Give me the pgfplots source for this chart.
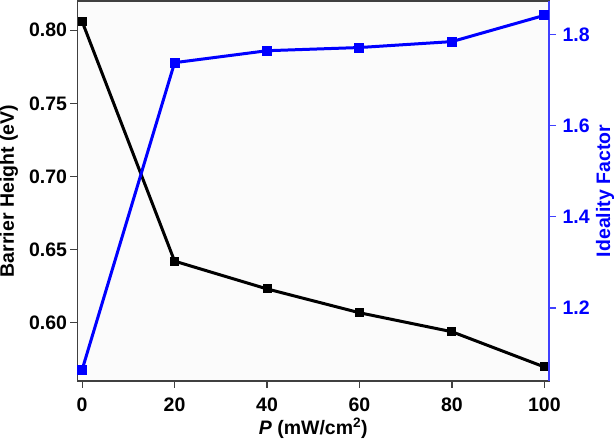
\documentclass[border=0pt]{standalone}
\usepackage{fontspec}
\setmainfont{Liberation Sans}
\usepackage{pgfplots}
\pgfplotsset{compat=1.18}
\definecolor{axgray}{HTML}{404040}
\definecolor{myblue}{RGB}{0,0,255}
\newcommand{\lblfont}{\bfseries\fontsize{19.5}{23}\selectfont}
\begin{document}
\begin{tikzpicture}
\useasboundingbox (-77.5pt,-60pt) rectangle (538.5pt,381pt);
\pgfplotsset{
  every axis/.append style={
    scale only axis, width=471.5pt, height=380pt,
    xmin=-1, xmax=101,
    /pgf/number format/assume math mode=true,
    tick label style={font=\lblfont},
    major tick length=7pt,
    tick align=outside,
    minor tick num=0,
  }
}
\begin{axis}[
  axis background/.style={fill=black!1.5},
  ymin=0.56, ymax=0.82,
  ytick={0.60,0.65,0.70,0.75,0.80},
  yticklabel style={/pgf/number format/fixed, /pgf/number format/fixed zerofill, /pgf/number format/precision=2},
  xticklabel style={yshift=-6pt},
  xtick={0,20,40,60,80,100},
  xtick pos=bottom, ytick pos=left,
  axis line style={axgray, line width=1.5pt},
  every tick/.style={axgray, line width=1.2pt},
  xlabel={\textit{P} (mW/cm\textsuperscript{2})},
  ylabel={Barrier Height (eV)},
  every axis y label/.style={at={(axis description cs:-0.1453,0.5)}, rotate=90, anchor=center, font=\lblfont},
  every axis x label/.style={at={(axis description cs:0.5,-0.124)}, anchor=center, font=\lblfont},
]
\addplot[black, line width=3pt, mark=square*, mark size=3pt, mark options={solid}] coordinates {
 (0,0.806) (20,0.642) (40,0.623) (60,0.6067) (80,0.5937) (100,0.5696)
};
\end{axis}
\begin{axis}[
  ymin=1.04, ymax=1.873,
  axis y line*=right, axis x line=none,
  ytick={1.2,1.4,1.6,1.8},
  yticklabel style={myblue, xshift=3pt, /pgf/number format/fixed, /pgf/number format/fixed zerofill, /pgf/number format/precision=1},
  y axis line style={myblue!75, line width=1.5pt},
  every tick/.style={myblue!75, line width=1.2pt},
  ylabel={Ideality Factor},
  every axis y label/.style={at={(axis description cs:1.1188,0.5)}, rotate=90, anchor=center, myblue, font=\lblfont},
]
\addplot[myblue, line width=3pt, mark=square*, mark size=3.5pt, mark options={solid}] coordinates {
 (0,1.0646) (20,1.7378) (40,1.764) (60,1.771) (80,1.784) (100,1.8416)
};
\end{axis}
\end{tikzpicture}
\end{document}
